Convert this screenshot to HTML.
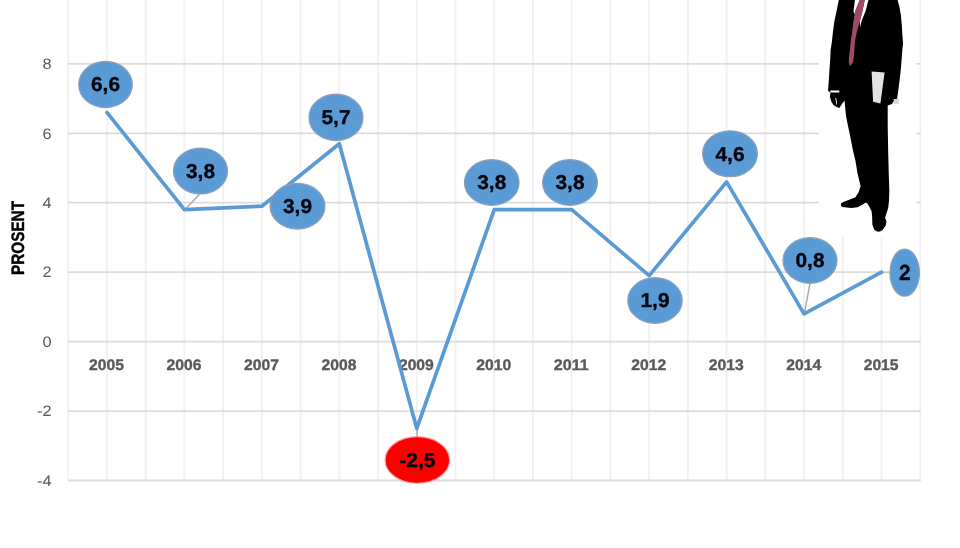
<!DOCTYPE html>
<html lang="no">
<head>
<meta charset="utf-8">
<title>Prosent 2005–2015</title>
<style>
html,body{margin:0;padding:0;background:#fff;}
body{width:960px;height:548px;overflow:hidden;font-family:"Liberation Sans",sans-serif;}
svg{display:block;filter:blur(0.35px);}
svg text{text-rendering:geometricPrecision;}
.tick{font-family:"Liberation Sans",sans-serif;font-size:14.6px;fill:#595959;}
.year{font-family:"Liberation Sans",sans-serif;font-size:15.3px;font-weight:bold;fill:#595959;stroke:#595959;stroke-width:0.35px;}
.val{font-family:"Liberation Sans",sans-serif;font-size:20px;font-weight:bold;fill:#06060f;stroke:#06060f;stroke-width:0.35px;}
.axis{font-family:"Liberation Sans",sans-serif;font-size:18px;font-weight:bold;fill:#000;stroke:#000;stroke-width:0.4px;}
</style>
</head>
<body>
<svg width="960" height="548" viewBox="0 0 960 548">
<rect x="0" y="0" width="960" height="548" fill="#ffffff"/>

<g stroke="#f1f1f1" stroke-width="1.8" fill="none">
<line x1="68.20" y1="0" x2="68.20" y2="480.5"/>
<line x1="106.93" y1="0" x2="106.93" y2="480.5"/>
<line x1="145.66" y1="0" x2="145.66" y2="480.5"/>
<line x1="184.39" y1="0" x2="184.39" y2="480.5"/>
<line x1="223.12" y1="0" x2="223.12" y2="480.5"/>
<line x1="261.85" y1="0" x2="261.85" y2="480.5"/>
<line x1="300.58" y1="0" x2="300.58" y2="480.5"/>
<line x1="339.31" y1="0" x2="339.31" y2="480.5"/>
<line x1="378.04" y1="0" x2="378.04" y2="480.5"/>
<line x1="416.77" y1="0" x2="416.77" y2="480.5"/>
<line x1="455.50" y1="0" x2="455.50" y2="480.5"/>
<line x1="494.23" y1="0" x2="494.23" y2="480.5"/>
<line x1="532.96" y1="0" x2="532.96" y2="480.5"/>
<line x1="571.69" y1="0" x2="571.69" y2="480.5"/>
<line x1="610.42" y1="0" x2="610.42" y2="480.5"/>
<line x1="649.15" y1="0" x2="649.15" y2="480.5"/>
<line x1="687.88" y1="0" x2="687.88" y2="480.5"/>
<line x1="726.61" y1="0" x2="726.61" y2="480.5"/>
<line x1="765.34" y1="0" x2="765.34" y2="480.5"/>
<line x1="804.07" y1="0" x2="804.07" y2="480.5"/>
<line x1="842.80" y1="0" x2="842.80" y2="480.5"/>
<line x1="881.53" y1="0" x2="881.53" y2="480.5"/>
<line x1="920.26" y1="0" x2="920.26" y2="480.5"/>
</g>
<g stroke="#dcdcdc" stroke-width="1.8" fill="none">
<line x1="68.20" y1="63.84" x2="920.6" y2="63.84"/>
<line x1="68.20" y1="133.28" x2="920.6" y2="133.28"/>
<line x1="68.20" y1="202.72" x2="920.6" y2="202.72"/>
<line x1="68.20" y1="272.16" x2="920.6" y2="272.16"/>
<line x1="68.20" y1="341.60" x2="920.6" y2="341.60"/>
<line x1="68.20" y1="411.04" x2="920.6" y2="411.04"/>
<line x1="68.20" y1="480.48" x2="920.6" y2="480.48"/>
</g>
<g class="tick" text-anchor="end">
<text transform="translate(51.6,69.14) scale(1.12,1.04)" x="0" y="0">8</text>
<text transform="translate(51.6,138.58) scale(1.12,1.04)" x="0" y="0">6</text>
<text transform="translate(51.6,208.02) scale(1.12,1.04)" x="0" y="0">4</text>
<text transform="translate(51.6,277.46) scale(1.12,1.04)" x="0" y="0">2</text>
<text transform="translate(51.6,346.90) scale(1.12,1.04)" x="0" y="0">0</text>
<text transform="translate(51.6,416.34) scale(1.12,1.04)" x="0" y="0">-2</text>
<text transform="translate(51.6,485.78) scale(1.12,1.04)" x="0" y="0">-4</text>
</g>
<g class="year" text-anchor="middle">
<text x="106.53" y="370.2" textLength="34.9" lengthAdjust="spacingAndGlyphs">2005</text>
<text x="183.99" y="370.2" textLength="34.9" lengthAdjust="spacingAndGlyphs">2006</text>
<text x="261.45" y="370.2" textLength="34.9" lengthAdjust="spacingAndGlyphs">2007</text>
<text x="338.91" y="370.2" textLength="34.9" lengthAdjust="spacingAndGlyphs">2008</text>
<text x="416.37" y="370.2" textLength="34.9" lengthAdjust="spacingAndGlyphs">2009</text>
<text x="493.83" y="370.2" textLength="34.9" lengthAdjust="spacingAndGlyphs">2010</text>
<text x="571.29" y="370.2" textLength="34.9" lengthAdjust="spacingAndGlyphs">2011</text>
<text x="648.75" y="370.2" textLength="34.9" lengthAdjust="spacingAndGlyphs">2012</text>
<text x="726.21" y="370.2" textLength="34.9" lengthAdjust="spacingAndGlyphs">2013</text>
<text x="803.67" y="370.2" textLength="34.9" lengthAdjust="spacingAndGlyphs">2014</text>
<text x="881.13" y="370.2" textLength="34.9" lengthAdjust="spacingAndGlyphs">2015</text>
</g>
<text class="axis" transform="translate(24.3,275) rotate(-90)" textLength="74" lengthAdjust="spacingAndGlyphs">PROSENT</text>
<rect x="818.75" y="0" width="97.5" height="237" fill="#ffffff"/>
<g id="man">
<path fill="#000000" d="M838.8,0 L836.7,10.4 L835.6,15.6 L834.5,20.8 L833,31.2 L831.9,41.7 L830.6,50 L830.3,58.3 L829.4,70.8 L828.7,82 L828,90.4 L830.4,92.7 L829.9,96.9 L830.7,99.5 L831.5,102 L833.5,104.9 L836.2,106.8 L839.3,108 L841,105.6 L842.4,103.3 L844.5,100.6 L846,115.8 L847.6,124 L849.2,131.5 L851.8,144.6 L853.3,152 L855.4,160.5 L857.6,173.7 L859.4,181 L860.6,186.2 L858.5,192.5 L855.4,197.2 L849.2,199.8 L843.4,201.9 L841.4,203 L840.8,204.5 L841.2,205.9 L842.4,206.9 L851.2,207.9 L857.5,207.3 L862.7,204.5 L865.8,202.4 L867.4,203.4 L869,206 L871.6,211.2 L872.1,216.5 L872.4,224.8 L874.2,229.5 L876,231.1 L878.3,231.8 L880.6,231.2 L882.5,230 L885.6,225.8 L886.5,221.7 L885.1,217.5 L886.1,214.4 L888.2,208.1 L889,200.8 L889.3,190.4 L888.8,175 L888.2,152 L887.7,126.2 L887.7,105.4 L891.9,103.9 L893.4,101.8 L895,99.2 L897.1,99 L898.1,91.7 L899.5,81 L900.7,70.8 L901.6,60 L902.3,50 L903.1,43.7 L902.4,35 L901.8,25 L900.8,14.6 L899.5,7.3 L897.6,0 Z"/>
<path fill="#ffffff" d="M854.9,0 L859.8,0 L855.6,10.4 L854.2,14.6 L853.6,10.4 Z"/>
<path fill="#ffffff" d="M864.6,0 L868.4,0 L865.8,10.4 L861.7,20.8 L860,27.2 L859.9,20.8 L862.5,10.4 Z"/>
<path fill="#a04a6b" d="M859.6,0 L864.8,0 L862.7,10.4 L860.1,20.8 L857,31.2 L854.9,41.7 L854.4,50 L853.3,61.5 L851.6,64.6 L849.7,66.1 L848.7,62 L849.2,55 L850.2,48 L850.7,41.7 L852.3,31.2 L853.5,20.8 L855.4,10.4 Z"/>
<path fill="#e2e2e2" d="M871.6,71.4 L884.6,72.4 L880.4,103.6 L873.1,101.8 Z"/>
<path fill="#ffffff" d="M830.2,90.4 L839.3,90.6 L839.3,92.6 L830.4,92.6 Z"/>
<path fill="#d8d8d8" d="M893.6,99.3 L898.9,98.6 L899.2,103.6 L894.2,103.9 Z"/>
<path fill="#ffffff" d="M835.3,98 L836.2,98 L837.1,104.6 L836.3,104.6 Z"/>
</g>

<g stroke="#a9a9a9" stroke-width="1.5" fill="none">
<line x1="199.5" y1="194.3" x2="185" y2="209.5"/>
<line x1="810" y1="283.4" x2="804.3" y2="313.6"/>
<line x1="417.1" y1="428" x2="417.1" y2="437"/>
<line x1="883" y1="272.4" x2="890.5" y2="272.4" stroke="#c4c4c4"/>
</g>
<polyline points="106.93,112.45 184.39,209.66 261.85,206.19 339.31,143.70 416.77,428.40 494.23,209.66 571.69,209.66 649.15,275.63 726.61,181.89 804.07,313.82 881.53,272.16" fill="none" stroke="#5b9bd5" stroke-width="3.7" stroke-linejoin="round" stroke-linecap="round"/>
<ellipse cx="105.5" cy="84.5" rx="26.80" ry="23.10" fill="#5b9bd5" stroke="#8c9fb8" stroke-width="1.2"/>
<text class="val" x="105.5" y="91.40" text-anchor="middle" textLength="29.0" lengthAdjust="spacingAndGlyphs">6,6</text>
<ellipse cx="200.5" cy="171.0" rx="27.00" ry="22.90" fill="#5b9bd5" stroke="#8c9fb8" stroke-width="1.2"/>
<text class="val" x="200.5" y="177.90" text-anchor="middle" textLength="29.0" lengthAdjust="spacingAndGlyphs">3,8</text>
<ellipse cx="297.5" cy="206.25" rx="27.40" ry="22.80" fill="#5b9bd5" stroke="#8c9fb8" stroke-width="1.2"/>
<text class="val" x="297.5" y="213.15" text-anchor="middle" textLength="29.0" lengthAdjust="spacingAndGlyphs">3,9</text>
<ellipse cx="336" cy="117.4" rx="27.00" ry="23.20" fill="#5b9bd5" stroke="#8c9fb8" stroke-width="1.2"/>
<text class="val" x="336" y="124.30" text-anchor="middle" textLength="29.0" lengthAdjust="spacingAndGlyphs">5,7</text>
<ellipse cx="417.35" cy="459.95" rx="32.30" ry="23.30" fill="#ff0000" stroke="#f2a0a0" stroke-width="1.2"/>
<text class="val" x="417.35" y="466.85" text-anchor="middle" textLength="36.3" lengthAdjust="spacingAndGlyphs">-2,5</text>
<ellipse cx="491.75" cy="182.5" rx="27.30" ry="22.80" fill="#5b9bd5" stroke="#8c9fb8" stroke-width="1.2"/>
<text class="val" x="491.75" y="189.40" text-anchor="middle" textLength="29.0" lengthAdjust="spacingAndGlyphs">3,8</text>
<ellipse cx="570" cy="182.5" rx="27.40" ry="22.80" fill="#5b9bd5" stroke="#8c9fb8" stroke-width="1.2"/>
<text class="val" x="570" y="189.40" text-anchor="middle" textLength="29.0" lengthAdjust="spacingAndGlyphs">3,8</text>
<ellipse cx="655" cy="300.5" rx="27.20" ry="22.80" fill="#5b9bd5" stroke="#8c9fb8" stroke-width="1.2"/>
<text class="val" x="655" y="307.40" text-anchor="middle" textLength="29.0" lengthAdjust="spacingAndGlyphs">1,9</text>
<ellipse cx="730" cy="153.75" rx="27.40" ry="22.95" fill="#5b9bd5" stroke="#8c9fb8" stroke-width="1.2"/>
<text class="val" x="730" y="160.65" text-anchor="middle" textLength="29.0" lengthAdjust="spacingAndGlyphs">4,6</text>
<ellipse cx="810" cy="260.5" rx="27.00" ry="22.80" fill="#5b9bd5" stroke="#8c9fb8" stroke-width="1.2"/>
<text class="val" x="810" y="267.40" text-anchor="middle" textLength="29.0" lengthAdjust="spacingAndGlyphs">0,8</text>
<ellipse cx="904.7" cy="272.7" rx="14.70" ry="23.50" fill="#5b9bd5" stroke="#8c9fb8" stroke-width="1.2"/>
<text class="val" style="font-size:21.8px" x="904.7" y="279.50" text-anchor="middle" textLength="11.6" lengthAdjust="spacingAndGlyphs">2</text>
</svg>
</body>
</html>
